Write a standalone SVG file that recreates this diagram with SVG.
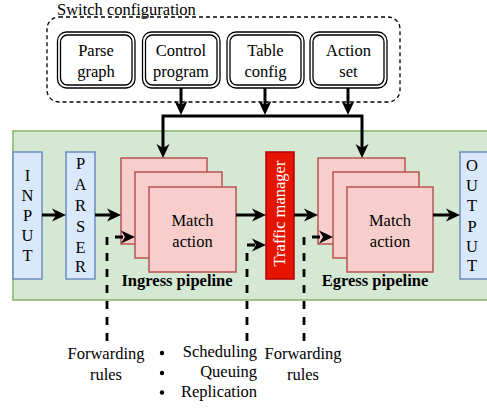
<svg xmlns="http://www.w3.org/2000/svg" width="487" height="409" viewBox="0 0 487 409" font-family="'Liberation Serif', 'Times New Roman', 'DejaVu Serif', serif" font-size="16.5">
<style>
.c{text-anchor:middle}
.b{font-weight:bold}
.cfg{fill:#fff;stroke:#000;stroke-width:1.3}
.green{fill:#d5e8d4;stroke:#82b366;stroke-width:1.5}
.blue{fill:#dae8fc;stroke:#6c8ebf;stroke-width:1.5}
.pink{fill:#f8cecc;stroke:#b85450;stroke-width:1.5}
.red{fill:#e51400;stroke:#b20000;stroke-width:1.5}
.edge{fill:none;stroke:#000;stroke-width:3}
.dash{fill:none;stroke:#000;stroke-width:2.8;stroke-dasharray:8 8}
</style>
<defs>
<marker id="arr" markerUnits="userSpaceOnUse" markerWidth="16" markerHeight="16" viewBox="0 0 16 16" refX="4" refY="7" orient="auto-start-reverse">
<path d="M0,0.5 L14,7 L0,13.5 L4,7 Z" fill="#000"/>
</marker>
</defs>

<g id="switch-configuration">
<rect x="47" y="17" width="353" height="85" rx="12" fill="none" stroke="#000" stroke-width="1.3" stroke-dasharray="4 3"/>
<text x="57" y="15">Switch configuration</text>
</g>
<g id="parse-graph">
<rect class="cfg" x="57.5" y="32" width="77.5" height="56" rx="9"/>
<rect class="cfg" x="60.5" y="35" width="71.5" height="50" rx="7"/>
<text class="c" x="96" y="55.5">Parse</text>
<text class="c" x="96" y="77">graph</text>
</g>
<g id="control-program">
<rect class="cfg" x="142.5" y="32" width="77.5" height="56" rx="9"/>
<rect class="cfg" x="145.5" y="35" width="71.5" height="50" rx="7"/>
<text class="c" x="181" y="55.5">Control</text>
<text class="c" x="181" y="77">program</text>
</g>
<g id="table-config">
<rect class="cfg" x="227" y="32" width="77" height="56" rx="9"/>
<rect class="cfg" x="230" y="35" width="71" height="50" rx="7"/>
<text class="c" x="265.5" y="55.5">Table</text>
<text class="c" x="265.5" y="77">config</text>
</g>
<g id="action-set">
<rect class="cfg" x="310" y="32" width="77" height="56" rx="9"/>
<rect class="cfg" x="313" y="35" width="71" height="50" rx="7"/>
<text class="c" x="348.5" y="55.5">Action</text>
<text class="c" x="348.5" y="77">set</text>
</g>

<g id="data-plane">
<rect class="green" x="13" y="131" width="480" height="169"/>
</g>
<g id="input">
<rect class="blue" x="13" y="152" width="29" height="127"/>
<text class="c" x="27.5" y="181">I</text>
<text class="c" x="27.5" y="201">N</text>
<text class="c" x="27.5" y="221">P</text>
<text class="c" x="27.5" y="241">U</text>
<text class="c" x="27.5" y="261">T</text>
</g>
<g id="parser">
<rect class="blue" x="66" y="152" width="29" height="127"/>
<text class="c" x="80.5" y="169">P</text>
<text class="c" x="80.5" y="190">A</text>
<text class="c" x="80.5" y="211">R</text>
<text class="c" x="80.5" y="232">S</text>
<text class="c" x="80.5" y="252.5">E</text>
<text class="c" x="80.5" y="272">R</text>
</g>
<g id="ingress-pipeline">
<rect class="pink" x="121" y="158" width="86" height="86"/>
<rect class="pink" x="135" y="172" width="87" height="86"/>
<rect class="pink" x="149" y="187" width="87" height="85"/>
<text class="c" x="192.5" y="226">Match</text>
<text class="c" x="192.5" y="247">action</text>
<text class="c b" x="177" y="286">Ingress pipeline</text>
</g>
<g id="traffic-manager">
<rect class="red" x="266" y="152" width="28" height="127"/>
<text class="c" transform="translate(285,213.5) rotate(-90)" fill="#fff">Traffic manager</text>
</g>
<g id="egress-pipeline">
<rect class="pink" x="318" y="158" width="87" height="86"/>
<rect class="pink" x="333" y="172" width="86" height="86"/>
<rect class="pink" x="347" y="187" width="86" height="85"/>
<text class="c" x="390" y="226">Match</text>
<text class="c" x="390" y="247">action</text>
<text class="c b" x="375" y="286">Egress pipeline</text>
</g>
<g id="output">
<rect class="blue" x="460" y="152" width="35" height="127"/>
<text class="c" x="472" y="170.5">O</text>
<text class="c" x="472" y="191">U</text>
<text class="c" x="472" y="211">T</text>
<text class="c" x="472" y="232">P</text>
<text class="c" x="472" y="252">U</text>
<text class="c" x="472" y="271">T</text>
</g>

<g id="forwarding-rules-ingress">
<text class="c" x="106" y="359">Forwarding</text>
<text class="c" x="106" y="380">rules</text>
</g>
<g id="tm-functions">
<circle cx="162" cy="353" r="2.2"/>
<circle cx="162" cy="373" r="2.2"/>
<circle cx="162" cy="392.5" r="2.2"/>
<text x="257" y="357" text-anchor="end">Scheduling</text>
<text x="257" y="377" text-anchor="end">Queuing</text>
<text x="257" y="397" text-anchor="end">Replication</text>
</g>
<g id="forwarding-rules-egress">
<text class="c" x="303" y="359">Forwarding</text>
<text class="c" x="303" y="380">rules</text>
</g>

<g id="connectors">
<path class="edge" d="M181,88 V105" marker-end="url(#arr)"/>
<path class="edge" d="M265,88 V105" marker-end="url(#arr)"/>
<path class="edge" d="M348,88 V105" marker-end="url(#arr)"/>
<path class="edge" d="M163,148 V116 H362 V148" marker-start="url(#arr)" marker-end="url(#arr)"/>
<path class="edge" d="M42,215 H56" marker-end="url(#arr)"/>
<path class="edge" d="M95,215 H111" marker-end="url(#arr)"/>
<path class="edge" d="M236,215 H256" marker-end="url(#arr)"/>
<path class="edge" d="M294,215 H308" marker-end="url(#arr)"/>
<path class="edge" d="M433,215 H450" marker-end="url(#arr)"/>
<path class="dash" d="M107,341 V237 H125" marker-end="url(#arr)"/>
<path class="dash" d="M247,341 V245 H256" marker-end="url(#arr)"/>
<path class="dash" d="M304,341 V237 H323" marker-end="url(#arr)"/>
</g>
</svg>
